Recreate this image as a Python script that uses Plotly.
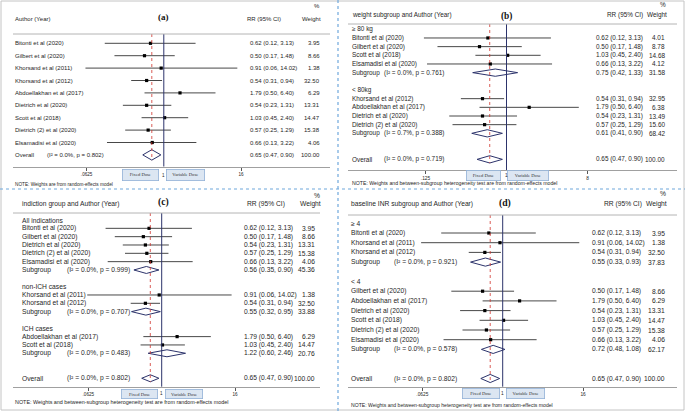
import math
import plotly.graph_objects as go

W, H = 685, 411

# ------------------------------------------------------------------ data
# Panel (a): all studies
A_kind = ["study"] * 9 + ["overall"]
A_label = ["Bitonti et al (2020)", "Gilbert et al (2020)", "Khorsand et al (2011)",
           "Khorsand et al (2012)", "Abdoellakhan et al (2017)", "Dietrich et al (2020)",
           "Scott et al (2018)", "Dietrich (2) et al (2020)", "Elsamadisi et al (2020)", "Overall"]
A_rr = [0.62, 0.50, 0.91, 0.54, 1.79, 0.54, 1.03, 0.57, 0.66, 0.65]
A_lo = [0.12, 0.17, 0.06, 0.31, 0.50, 0.23, 0.45, 0.25, 0.13, 0.47]
A_hi = [3.13, 1.48, 14.02, 0.94, 6.40, 1.31, 2.40, 1.29, 3.22, 0.90]
A_wt = [3.95, 8.66, 1.38, 32.50, 6.29, 13.31, 14.47, 15.38, 4.06, 100.00]
A_i2 = [None] * 9 + [0.0]
A_p = [None] * 9 + [0.802]

# Panel (b): weight subgroup
B_kind = ["group", "study", "study", "study", "study", "sub", "blank",
          "group", "study", "study", "study", "study", "sub", "blank", "blank", "overall"]
B_label = ["\u2265 80 kg", "Bitonti et al (2020)", "Gilbert et al (2020)", "Scott et al (2018)",
           "Elsamadisi et al (2020)", "Subgroup", "",
           "< 80kg", "Khorsand et al (2012)", "Abdoellakhan et al (2017)", "Dietrich et al (2020)",
           "Dietrich (2) et al (2020)", "Subgroup", "", "", "Overall"]
B_rr = [None, 0.62, 0.50, 1.03, 0.66, 0.75, None, None, 0.54, 1.79, 0.54, 0.57, 0.61, None, None, 0.65]
B_lo = [None, 0.12, 0.17, 0.45, 0.13, 0.42, None, None, 0.31, 0.50, 0.23, 0.25, 0.41, None, None, 0.47]
B_hi = [None, 3.13, 1.48, 2.40, 3.22, 1.33, None, None, 0.94, 6.40, 1.31, 1.29, 0.90, None, None, 0.90]
B_wt = [None, 4.01, 8.78, 14.68, 4.12, 31.58, None, None, 32.95, 6.38, 13.49, 15.60, 68.42, None, None, 100.00]
B_i2 = [None] * 5 + [0.0] + [None] * 6 + [0.7, None, None, 0.0]
B_p = [None] * 5 + [0.761] + [None] * 6 + [0.388, None, None, 0.719]

# Panel (c): indication group
C_kind = ["group", "study", "study", "study", "study", "study", "sub", "blank",
          "group", "study", "study", "sub", "blank",
          "group", "study", "study", "sub", "blank", "blank", "overall"]
C_label = ["All indications", "Bitonti et al (2020)", "Gilbert et al (2020)", "Dietrich et al (2020)",
           "Dietrich (2) et al (2020)", "Elsamadisi et al (2020)", "Subgroup", "",
           "non-ICH cases", "Khorsand et al (2011)", "Khorsand et al (2012)", "Subgroup", "",
           "ICH cases", "Abdoellakhan et al (2017)", "Scott et al (2018)", "Subgroup", "", "", "Overall"]
C_rr = [None, 0.62, 0.50, 0.54, 0.57, 0.66, 0.56, None, None, 0.91, 0.54, 0.55, None, None,
        1.79, 1.03, 1.22, None, None, 0.65]
C_lo = [None, 0.12, 0.17, 0.23, 0.25, 0.13, 0.35, None, None, 0.06, 0.31, 0.32, None, None,
        0.50, 0.45, 0.60, None, None, 0.47]
C_hi = [None, 3.13, 1.48, 1.31, 1.29, 3.22, 0.90, None, None, 14.02, 0.94, 0.95, None, None,
        6.40, 2.40, 2.46, None, None, 0.90]
C_wt = [None, 3.95, 8.66, 13.31, 15.38, 4.06, 45.36, None, None, 1.38, 32.50, 33.88, None, None,
        6.29, 14.47, 20.76, None, None, 100.00]
C_i2 = [None] * 6 + [0.0] + [None] * 4 + [0.0] + [None] * 4 + [0.0, None, None, 0.0]
C_p = [None] * 6 + [0.999] + [None] * 4 + [0.707] + [None] * 4 + [0.483, None, None, 0.802]

# Panel (d): baseline INR subgroup
D_kind = ["group", "study", "study", "study", "sub", "blank",
          "group", "study", "study", "study", "study", "study", "study", "sub", "blank", "blank", "overall"]
D_label = ["\u2265 4", "Bitonti et al (2020)", "Khorsand et al (2011)", "Khorsand et al (2012)", "Subgroup", "",
           "< 4", "Gilbert et al (2020)", "Abdoellakhan et al (2017)", "Dietrich et al (2020)",
           "Scott et al (2018)", "Dietrich (2) et al (2020)", "Elsamadisi et al (2020)", "Subgroup", "", "", "Overall"]
D_rr = [None, 0.62, 0.91, 0.54, 0.55, None, None, 0.50, 1.79, 0.54, 1.03, 0.57, 0.66, 0.72, None, None, 0.65]
D_lo = [None, 0.12, 0.06, 0.31, 0.33, None, None, 0.17, 0.50, 0.23, 0.45, 0.25, 0.13, 0.48, None, None, 0.47]
D_hi = [None, 3.13, 14.02, 0.94, 0.93, None, None, 1.48, 6.40, 1.31, 2.40, 1.29, 3.22, 1.08, None, None, 0.90]
D_wt = [None, 3.95, 1.38, 32.50, 37.83, None, None, 8.66, 6.29, 13.31, 14.47, 15.38, 4.06, 62.17, None, None, 100.00]
D_i2 = [None] * 4 + [0.0] + [None] * 8 + [0.0, None, None, 0.0]
D_p = [None] * 4 + [0.921] + [None] * 8 + [0.578, None, None, 0.802]

HEADERS = ["Author (Year)", "weight subgroup and Author (Year)",
           "indiction group and Author (Year)", "baseline INR subgroup and Author (Year)"]
TITLES = ["(a)", "(b)", "(c)", "(d)"]
NOTE_A = "NOTE: Weights are from random-effects model"
NOTE_SUB = "NOTE: Weights and between-subgroup heterogeneity test are from random-effects model"
TICKS_16 = [0.0625, 16]
TICKS_16_TXT = [".0625", "16"]
TICKS_8 = [0.125, 8]
TICKS_8_TXT = [".125", "8"]

# ------------------------------------------------------------------ style / layout
SANS = "Liberation Sans, Arial, sans-serif"
SERIF = "Liberation Serif, Times New Roman, serif"
TXT = "#262626"
NAVY = "#2c336b"
CI_COL = "#333333"
RED = "#d0342c"
GRID = "#b4b4b4"

CFG = [
    dict(y0=43.3, dy=12.4, hline=34, axis_y=166.5, fs=6.0, label_x=13, stat_x=45, rr_x=247.5, wt_r=322,
         dom=(13, 330), null_px=163.8, ppl2=19.3, head_y=19, pct_y=6, title_x=163, title_y=17,
         rrh_x=245, wth_r=323, box_y=175, fix_cx=140.5, var_cx=185.5, fix_w=35, var_w=37, box_h=10,
         note_x=13, note_y=184, note_fs=4.7, tick_fs=4.6, ticks=TICKS_16, ticktxt=TICKS_16_TXT, note=NOTE_A),
    dict(y0=29.3, dy=8.67, hline=24, axis_y=170, fs=6.4, label_x=350, stat_x=382, rr_x=594, wt_r=667,
         dom=(348, 677), null_px=506.5, ppl2=27.0, head_y=15, pct_y=4, title_x=506, title_y=16,
         rrh_x=605, wth_r=669, box_y=175.3, fix_cx=483.3, var_cx=527.5, fix_w=33, var_w=40, box_h=9.3,
         note_x=350, note_y=183.3, note_fs=5.2, tick_fs=4.8, ticks=TICKS_8, ticktxt=TICKS_8_TXT, note=NOTE_SUB),
    dict(y0=220, dy=8.33, hline=213, axis_y=386.7, fs=6.7, label_x=20, stat_x=65, rr_x=242, wt_r=317,
         dom=(13, 320), null_px=161.7, ppl2=18.35, head_y=204, pct_y=195, title_x=163, title_y=202,
         rrh_x=245, wth_r=323, box_y=393.5, fix_cx=139.5, var_cx=184, fix_w=35.5, var_w=36.5, box_h=8.4,
         note_x=13, note_y=401.7, note_fs=5.4, tick_fs=4.6, ticks=TICKS_16, ticktxt=TICKS_16_TXT, note=NOTE_SUB),
    dict(y0=223.3, dy=9.7, hline=215, axis_y=386.7, fs=6.7, label_x=349, stat_x=392, rr_x=590, wt_r=667,
         dom=(348, 677), null_px=502.7, ppl2=20.1, head_y=204, pct_y=193, title_x=505, title_y=203,
         rrh_x=602, wth_r=669, box_y=393.5, fix_cx=480.7, var_cx=525, fix_w=36, var_w=37.5, box_h=9,
         note_x=349, note_y=405, note_fs=5.1, tick_fs=4.8, ticks=TICKS_16, ticktxt=TICKS_16_TXT, note=NOTE_SUB),
]

PANELS = [
    dict(kind=A_kind, label=A_label, rr=A_rr, lo=A_lo, hi=A_hi, wt=A_wt, i2=A_i2, p=A_p),
    dict(kind=B_kind, label=B_label, rr=B_rr, lo=B_lo, hi=B_hi, wt=B_wt, i2=B_i2, p=B_p),
    dict(kind=C_kind, label=C_label, rr=C_rr, lo=C_lo, hi=C_hi, wt=C_wt, i2=C_i2, p=C_p),
    dict(kind=D_kind, label=D_label, rr=D_rr, lo=D_lo, hi=D_hi, wt=D_wt, i2=D_i2, p=D_p),
]

fig = go.Figure()
annotations = []
shapes = []


def txt(x, y, s, size, anchor="left", family=SANS, color=TXT):
    annotations.append(dict(x=x / W, y=y, xref="paper", yref="y", text=s, showarrow=False,
                            xanchor=anchor, yanchor="middle",
                            font=dict(family=family, size=size, color=color)))


def hline(x0, x1, y, color=GRID, width=1, dash="solid"):
    shapes.append(dict(type="line", xref="paper", yref="y", x0=x0 / W, x1=x1 / W, y0=y, y1=y,
                       line=dict(color=color, width=width, dash=dash)))


for n, (d, c) in enumerate(zip(PANELS, CFG), start=1):
    xa = "x" if n == 1 else f"x{n}"
    key = "xaxis" if n == 1 else f"xaxis{n}"
    ppl10 = c["ppl2"] / math.log10(2)
    r0 = -(c["null_px"] - c["dom"][0]) / ppl10
    r1 = (c["dom"][1] - c["null_px"]) / ppl10
    fig.update_layout(**{key: dict(
        type="log", domain=[c["dom"][0] / W, c["dom"][1] / W], range=[r0, r1],
        anchor="free", position=1 - c["axis_y"] / H, showline=True, linecolor="#a0a0a0", linewidth=1,
        ticks="outside", ticklen=3, tickcolor="#555", tickwidth=0.8,
        tickvals=c["ticks"], ticktext=c["ticktxt"],
        tickfont=dict(family=SANS, size=c["tick_fs"], color=TXT),
        showgrid=False, zeroline=False, fixedrange=True)})

    fs = c["fs"]
    # header
    txt(c["label_x"], c["head_y"], HEADERS[n - 1], fs)
    txt(c["title_x"], c["title_y"], "<b>" + TITLES[n - 1] + "</b>", fs + 3, anchor="center", family=SERIF,
        color="#111")
    txt(c["rrh_x"], c["head_y"], "RR (95% CI)", fs)
    txt(c["wth_r"], c["head_y"], "Weight", fs, anchor="right")
    txt(c["wth_r"] - 1, c["pct_y"], "%", fs, anchor="right")
    hline(c["dom"][0], c["dom"][1], c["hline"])

    ci_x, ci_y, pt_x, pt_y = [], [], [], []
    ov_y = None
    ov_rr = None
    h = 0.42 * c["dy"]
    for i, k in enumerate(d["kind"]):
        y = c["y0"] + i * c["dy"]
        if k == "blank":
            continue
        txt(c["label_x"], y, d["label"][i], fs)
        if k == "group":
            continue
        rr, lo, hi, wt = d["rr"][i], d["lo"][i], d["hi"][i], d["wt"][i]
        txt(c["rr_x"], y, f"{rr:.2f} ({lo:.2f}, {hi:.2f})", fs)
        txt(c["wt_r"], y, f"{wt:.2f}", fs, anchor="right")
        if k == "study":
            ci_x += [lo, hi, None]
            ci_y += [y, y, None]
            pt_x.append(rr)
            pt_y.append(y)
        else:
            txt(c["stat_x"], y, f"(I\u00b2 = {d['i2'][i]:.1f}%, p = {d['p'][i]:.3f})", fs)
            fig.add_trace(go.Scatter(x=[lo, rr, hi, rr, lo], y=[y, y - h, y, y + h, y], xaxis=xa, yaxis="y",
                                     mode="lines", fill="toself", fillcolor="rgba(255,255,255,1)",
                                     line=dict(color=NAVY, width=1), hoverinfo="skip", showlegend=False))
            if k == "overall":
                ov_y, ov_rr = y, rr

    fig.add_trace(go.Scatter(x=ci_x, y=ci_y, xaxis=xa, yaxis="y", mode="lines",
                             line=dict(color=CI_COL, width=0.9), hoverinfo="skip", showlegend=False))
    fig.add_trace(go.Scatter(x=pt_x, y=pt_y, xaxis=xa, yaxis="y", mode="markers",
                             marker=dict(symbol="square", size=3.2, color="#000"),
                             hoverinfo="skip", showlegend=False))
    # null line
    fig.add_trace(go.Scatter(x=[1, 1], y=[c["hline"], c["axis_y"]], xaxis=xa, yaxis="y", mode="lines",
                             line=dict(color=NAVY, width=1), hoverinfo="skip", showlegend=False))
    # overall effect line
    fig.add_trace(go.Scatter(x=[ov_rr, ov_rr], y=[c["hline"], ov_y + h], xaxis=xa, yaxis="y", mode="lines",
                             line=dict(color=RED, width=0.8, dash="dot"), hoverinfo="skip", showlegend=False))

    # dose boxes and "1"
    for cx, wbox, lab in ((c["fix_cx"], c["fix_w"], "Fixed Dose"), (c["var_cx"], c["var_w"], "Variable Dose")):
        annotations.append(dict(x=cx / W, y=c["box_y"], xref="paper", yref="y", text=lab, showarrow=False,
                                xanchor="center", yanchor="middle", width=wbox, height=c["box_h"],
                                bgcolor="#dce6f2", bordercolor="#92b1d6", borderwidth=0.8, borderpad=0,
                                font=dict(family=SERIF, size=4.6, color="#333")))
    txt(c["null_px"], c["box_y"], "1", c["tick_fs"], anchor="center")
    txt(c["note_x"], c["note_y"], c["note"], c["note_fs"])

# panel frames and separators
shapes.append(dict(type="rect", xref="paper", yref="y", x0=1 / W, x1=684 / W, y0=1, y1=410,
                   line=dict(color="#c4c4c4", width=1)))
shapes.append(dict(type="line", xref="paper", yref="y", x0=338 / W, x1=338 / W, y0=0, y1=411,
                   line=dict(color="#6fa8dc", width=1.2, dash="dot")))
hline(0, W, 189, color="#6fa8dc", width=1.2, dash="dot")

fig.update_layout(
    width=W, height=H, margin=dict(l=0, r=0, t=0, b=0),
    paper_bgcolor="white", plot_bgcolor="rgba(0,0,0,0)", showlegend=False,
    yaxis=dict(range=[H, 0], domain=[0, 1], visible=False, fixedrange=True),
    annotations=annotations, shapes=shapes,
)

fig.write_html("out.html", config={"displayModeBar": False},
               post_script="document.body.style.margin='0';document.body.style.overflow='hidden';")
